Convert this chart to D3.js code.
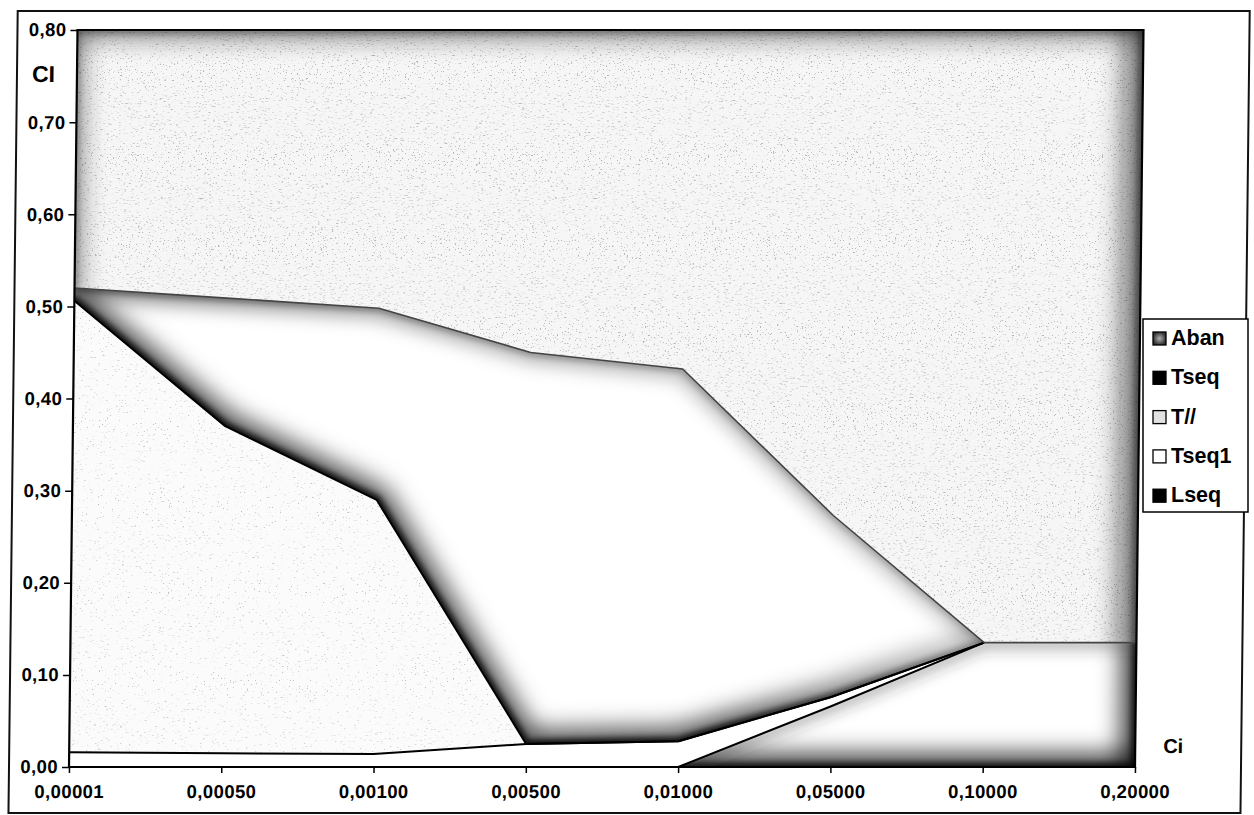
<!DOCTYPE html>
<html><head><meta charset="utf-8">
<script src="https://cdn.jsdelivr.net/npm/d3@7"></script>
<style>
html,body{margin:0;padding:0;background:#fff;}
svg{display:block;font-family:"Liberation Sans",Arial,sans-serif;font-weight:bold;}
</style>
</head><body>
<svg id="chart" width="1254" height="815"></svg>
<script>
// ---------- data ----------
const categories = ["0,00001","0,00050","0,00100","0,00500","0,01000","0,05000","0,10000","0,20000"];
// stacked series (bottom -> top)
const Lseq  = [0.000, 0.000, 0.000, 0.000, 0.000, 0.066, 0.135, 0.135];
const Tseq1 = [0.016, 0.015, 0.014, 0.025, 0.028, 0.010, 0.000, 0.000];
const Tpar  = [0.490, 0.355, 0.276, 0.000, 0.000, 0.000, 0.000, 0.000]; // "T//"
const Tseq  = [0.014, 0.139, 0.208, 0.425, 0.404, 0.197, 0.000, 0.000];
const Aban  = [0.280, 0.291, 0.302, 0.350, 0.368, 0.527, 0.665, 0.665];
const legendNames = ["Aban","Tseq","T//","Tseq1","Lseq"];
const yTicks = [0,0.1,0.2,0.3,0.4,0.5,0.6,0.7,0.8];
const yTickLabels = ["0,00","0,10","0,20","0,30","0,40","0,50","0,60","0,70","0,80"];
const yTitle = "CI", xTitle = "Ci";

// ---------- layout ----------
const W = 1254, H = 815;
const M = {left: 69, right: 1135, top: 30, bottom: 767};
const svg = d3.select("#chart");
const x = d3.scalePoint().domain(categories).range([M.left, M.right]);
const y = d3.scaleLinear().domain([0, 0.8]).range([M.bottom, M.top]);

const keys = ["Lseq","Tseq1","T//","Tseq","Aban"];
const rows = categories.map((c,i)=>({cat:c, "Lseq":Lseq[i], "Tseq1":Tseq1[i], "T//":Tpar[i], "Tseq":Tseq[i], "Aban":Aban[i]}));
const stacked = d3.stack().keys(keys)(rows);
const S = {}; stacked.forEach(s => S[s.key] = s);

const area = d3.area().x(d=>x(d.data.cat)).y0(d=>y(d[0])).y1(d=>y(d[1]));
const lineBot = d3.line().x(d=>x(d.data.cat)).y(d=>y(d[0]));
const lineTop = d3.line().x(d=>x(d.data.cat)).y(d=>y(d[1]));
const edgePath = (s, edge) => {
  if (edge === "bottom") return lineBot(s);
  if (edge === "top") return lineTop(s);
  const d = edge === "left" ? s[0] : s[s.length-1];
  return `M${x(d.data.cat)},${y(d[0])}V${y(d[1])}`;
};
const cid = k => "clip-" + k.replace(/\W/g,"_");

// ---------- defs ----------
const defs = svg.append("defs");
keys.forEach(k => defs.append("clipPath").attr("id",cid(k)).append("path").attr("d", area(S[k])));
d3.range(2,16).forEach(b => defs.append("filter").attr("id","blur"+b)
  .attr("filterUnits","userSpaceOnUse").attr("x",0).attr("y",0).attr("width",W).attr("height",H)
  .append("feGaussianBlur").attr("stdDeviation", b));

function speckle(id, bg, gain, off, grey, seed){
  const f = defs.append("filter").attr("id",id).attr("filterUnits","userSpaceOnUse")
    .attr("x",0).attr("y",0).attr("width",W).attr("height",H);
  f.append("feTurbulence").attr("type","fractalNoise").attr("baseFrequency",0.65)
    .attr("numOctaves",2).attr("seed",seed).attr("result","n");
  f.append("feColorMatrix").attr("in","n").attr("type","matrix")
    .attr("values",`0 0 0 0 ${grey} 0 0 0 0 ${grey} 0 0 0 0 ${grey} ${gain} 0 0 0 ${off}`).attr("result","dots");
  f.append("feFlood").attr("flood-color",bg).attr("result","bg");
  const m = f.append("feMerge");
  m.append("feMergeNode").attr("in","bg");
  m.append("feMergeNode").attr("in","dots");
}
speckle("speckA", "#f6f6f6", 10, -6.4, 0.45, 7);
speckle("speckB", "#fbfbfb", 10, -6.9, 0.5, 3);

function xGrad(id, stops){
  const g = defs.append("linearGradient").attr("id",id).attr("gradientUnits","userSpaceOnUse")
    .attr("x1", M.left).attr("x2", x(categories[6])).attr("y1",0).attr("y2",0);
  stops.forEach(s => g.append("stop").attr("offset",s[0]).attr("stop-color","#000").attr("stop-opacity",s[1]));
}
xGrad("gTseqB", [[0,1],[0.72,0.95],[1,0.3]]);
xGrad("gTseqT", [[0,0.6],[0.45,0.38],[1,0.28]]);

const swG = defs.append("radialGradient").attr("id","swAban");
swG.append("stop").attr("offset",0).attr("stop-color","#b0b0b0");
swG.append("stop").attr("offset",1).attr("stop-color","#333");

// ---------- skewed group (scanned page shear) ----------
const root = svg.append("g")
  .attr("transform", `translate(0,${M.bottom}) skewX(-0.66) translate(0,${-M.bottom})`);

// band base fills
const bandFill = {"Aban":"speckA", "T//":"speckB"};
keys.forEach(k => {
  const g = root.append("g").attr("clip-path", `url(#${cid(k)})`);
  if (bandFill[k]) {
    g.append("rect").attr("x",M.left).attr("y",M.top).attr("width",M.right-M.left).attr("height",M.bottom-M.top)
      .attr("fill","#fff").attr("filter",`url(#${bandFill[k]})`);
  } else {
    g.append("path").attr("d", area(S[k])).attr("fill","#fff");
  }
});

// band edge shading (a sharp rim + a soft wide glow per edge)
const shading = {
  "Aban": [
    {edge:"top",w:6,b:3,stroke:"#222",op:0.55},{edge:"top",w:22,b:10,stroke:"#222",op:0.45},
    {edge:"left",w:6,b:3,stroke:"#333",op:0.45},{edge:"left",w:20,b:10,stroke:"#333",op:0.4},
    {edge:"right",w:8,b:3,stroke:"#111",op:0.65},{edge:"right",w:36,b:13,stroke:"#111",op:0.6}],
  "Tseq": [
    {edge:"bottom",w:8,b:3,stroke:"url(#gTseqB)",op:1},{edge:"bottom",w:24,b:13,stroke:"url(#gTseqB)",op:0.85},
    {edge:"top",w:6,b:3,stroke:"url(#gTseqT)",op:0.9},{edge:"top",w:20,b:9,stroke:"url(#gTseqT)",op:0.8}],
  "Lseq": [
    {edge:"bottom",w:8,b:3,stroke:"#000",op:0.9},{edge:"bottom",w:26,b:12,stroke:"#000",op:0.8},
    {edge:"right",w:8,b:3,stroke:"#000",op:0.9},{edge:"right",w:28,b:12,stroke:"#000",op:0.8},
    {edge:"top",w:16,b:7,stroke:"#333",op:0.3}]
};
Object.keys(shading).forEach(k => {
  const g = root.append("g").attr("clip-path", `url(#${cid(k)})`);
  shading[k].forEach(s => g.append("path").attr("d", edgePath(S[k], s.edge))
    .attr("fill","none").attr("stroke", s.stroke).attr("stroke-opacity", s.op)
    .attr("stroke-width", s.w).attr("stroke-linecap","square").attr("stroke-linejoin","round")
    .attr("filter", `url(#blur${s.b})`));
});

// boundary lines
defs.append("clipPath").attr("id","clipLeft").append("rect")
  .attr("x",0).attr("y",0).attr("width", x(categories[6])).attr("height",H);
const lg = root.append("g").attr("clip-path","url(#clipLeft)");
["Lseq","Tseq1","T//"].forEach(k => lg.append("path").attr("d", lineTop(S[k]))
  .attr("fill","none").attr("stroke","#000").attr("stroke-width",2).attr("stroke-linejoin","round"));
root.append("path").attr("d", lineTop(S["Tseq"])).attr("fill","none")
  .attr("stroke","#444").attr("stroke-width",1.6).attr("stroke-linejoin","round");

// plot border
root.append("rect").attr("x",M.left).attr("y",M.top).attr("width",M.right-M.left).attr("height",M.bottom-M.top)
  .attr("fill","none").attr("stroke","#000").attr("stroke-width",2.2);

// axes
const ya = root.append("g").attr("transform",`translate(${M.left},0)`)
  .call(d3.axisLeft(y).tickValues(yTicks).tickFormat((d,i)=>yTickLabels[i]).tickSize(7).tickPadding(4));
const xa = root.append("g").attr("transform",`translate(0,${M.bottom})`)
  .call(d3.axisBottom(x).tickSize(6).tickPadding(12));
[ya, xa].forEach(a => {
  a.select(".domain").remove();
  a.selectAll("line").attr("stroke","#000").attr("stroke-width",1.5);
  a.selectAll("text").attr("fill","#000").style("font-size","18.5px").style("font-weight","bold")
    .style("letter-spacing","0.4px").style("font-family","'Liberation Sans',Arial,sans-serif");
});

// axis titles
root.append("text").attr("x",24).attr("y",82).text(yTitle).style("font-size","23px").attr("fill","#000");
root.append("text").attr("x",1163).attr("y",753).text(xTitle).style("font-size","20px").attr("fill","#000");

// outer frame
root.append("rect").attr("x",9).attr("y",11).attr("width",1232).attr("height",802)
  .attr("fill","none").attr("stroke","#111").attr("stroke-width",2);

// ---------- legend ----------
const legendFill = {"Aban":"url(#swAban)","Tseq":"#000","T//":"#e2e2e2","Tseq1":"#fff","Lseq":"#000"};
const leg = svg.append("g");
leg.append("rect").attr("x",1143).attr("y",319).attr("width",105).attr("height",193)
  .attr("fill","#fff").attr("stroke","#000").attr("stroke-width",1.5);
legendNames.forEach((n,i) => {
  const by = 345 + i*39.3;
  leg.append("rect").attr("x",1153).attr("y",by-13).attr("width",13).attr("height",13)
    .attr("fill",legendFill[n]).attr("stroke","#000").attr("stroke-width",1.3);
  leg.append("text").attr("x",1171).attr("y",by).text(n).style("font-size","21.5px").attr("fill","#000");
});
</script>
</body></html>
